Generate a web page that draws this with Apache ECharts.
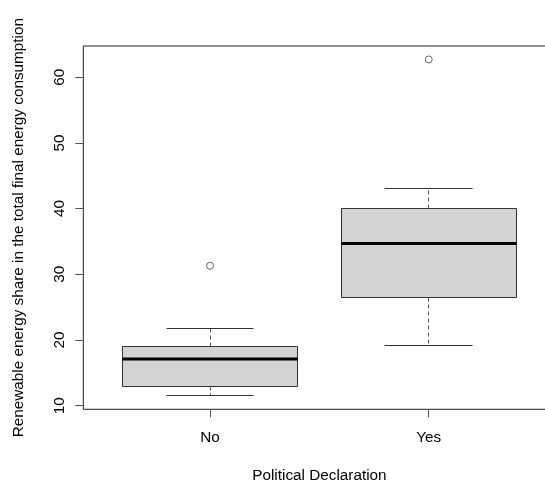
<!DOCTYPE html>
<html>
<head>
<meta charset="utf-8">
<script src="https://cdn.jsdelivr.net/npm/echarts@6/dist/echarts.min.js"></script>
<style>
  html, body { margin: 0; padding: 0; background: #fff; overflow: hidden; }
  #chart { width: 545px; height: 481px; }
</style>
</head>
<body>
<div id="chart"></div>
<script>
// Groups on the x axis and their positions
const categories = ['No', 'Yes'];
const categoryPos = [1, 2];

// Five-number summaries per group
const lowerWhisker = [11.5, 19.2];
const q1 = [12.9, 26.5];
const median = [17.1, 34.7];
const q3 = [19.0, 40.0];
const upperWhisker = [21.8, 43.0];

// Points beyond the whiskers
const outlierGroup = [1, 2];
const outlierValue = [31.3, 62.7];

// Y axis tick values
const yTicks = [10, 20, 30, 40, 50, 60];

const FONT = "'Liberation Sans', Arial, sans-serif";
const FS = 15.3;

const boxData = categories.map((c, i) => [
  categoryPos[i], lowerWhisker[i], q1[i], median[i], q3[i], upperWhisker[i]
]);
const outlierData = outlierGroup.map((g, i) => [g, outlierValue[i]]);

const BOX_HALF = 0.4;   // half box width in axis units
const CAP_HALF = 0.2;   // half whisker cap width in axis units

function crisp(v) { return Math.round(v - 0.5) + 0.5; }

function renderBox(params, api) {
  const x = api.value(0);
  const lo = api.value(1), a = api.value(2), m = api.value(3), b = api.value(4), hi = api.value(5);
  const pL = api.coord([x - BOX_HALF, a]);
  const pR = api.coord([x + BOX_HALF, b]);
  const cx = crisp(api.coord([x, m])[0]);
  const yLo = crisp(api.coord([x, lo])[1]);
  const yHi = crisp(api.coord([x, hi])[1]);
  const yA = crisp(pL[1]);
  const yB = crisp(pR[1]);
  const yM = api.coord([x, m])[1];
  const xL = crisp(pL[0]);
  const xR = crisp(pR[0]);
  const capL = crisp(api.coord([x - CAP_HALF, lo])[0]);
  const capR = crisp(api.coord([x + CAP_HALF, lo])[0]);
  const solid = { stroke: '#333', lineWidth: 1, fill: null };
  const dashed = { stroke: '#555', lineWidth: 1, lineDash: [4, 3], fill: null };
  return {
    type: 'group',
    children: [
      { type: 'line', shape: { x1: cx, y1: yB, x2: cx, y2: yHi }, style: dashed },
      { type: 'line', shape: { x1: cx, y1: yA, x2: cx, y2: yLo }, style: dashed },
      { type: 'line', shape: { x1: capL, y1: yHi, x2: capR, y2: yHi }, style: solid },
      { type: 'line', shape: { x1: capL, y1: yLo, x2: capR, y2: yLo }, style: solid },
      { type: 'rect', shape: { x: xL, y: yB, width: xR - xL, height: yA - yB },
        style: { fill: '#d3d3d3', stroke: '#333', lineWidth: 1 } },
      { type: 'line', shape: { x1: xL, y1: yM, x2: xR, y2: yM },
        style: { stroke: '#000', lineWidth: 3 } }
    ]
  };
}

const chart = echarts.init(document.getElementById('chart'), null, { renderer: 'canvas' });
chart.setOption({
  animation: false,
  backgroundColor: '#fff',
  grid: {
    left: 83.3, right: -10.5, top: 46, bottom: 71.7,
    outerBoundsMode: 'none',
    containLabel: false,
    show: true, borderColor: '#222', borderWidth: 1, backgroundColor: 'transparent'
  },
  xAxis: {
    type: 'value',
    min: 0.42, max: 2.58,
    name: 'Political Declaration',
    nameLocation: 'middle',
    nameGap: 59,
    nameTextStyle: { fontFamily: FONT, fontSize: FS, color: '#000' },
    axisLine: { show: false },
    splitLine: { show: false },
    axisTick: { show: true, customValues: categoryPos, length: 8, lineStyle: { color: '#555', width: 1 } },
    axisLabel: {
      customValues: categoryPos,
      formatter: v => categories[categoryPos.indexOf(v)],
      margin: 21, fontFamily: FONT, fontSize: FS, color: '#000'
    }
  },
  yAxis: {
    type: 'value',
    min: 9.45, max: 64.75,
    name: 'Renewable energy share in the total final energy consumption',
    nameLocation: 'middle',
    nameGap: 57,
    nameTextStyle: { fontFamily: FONT, fontSize: FS, color: '#000' },
    axisLine: { show: false },
    splitLine: { show: false },
    axisTick: { show: true, customValues: yTicks, length: 8, lineStyle: { color: '#555', width: 1 } },
    axisLabel: {
      customValues: yTicks,
      rotate: 90,
      margin: 16, fontFamily: FONT, fontSize: FS, color: '#000'
    }
  },
  series: [
    {
      type: 'custom',
      renderItem: renderBox,
      encode: { x: 0, y: [1, 2, 3, 4, 5] },
      data: boxData,
      clip: false
    },
    {
      type: 'scatter',
      data: outlierData,
      symbol: 'circle',
      symbolSize: 7,
      itemStyle: { color: '#fff', borderColor: '#444', borderWidth: 1 }
    }
  ]
});
</script>
</body>
</html>
